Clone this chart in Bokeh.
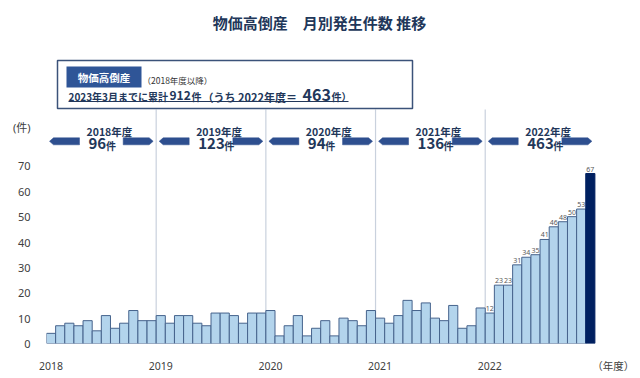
from bokeh.plotting import figure
from bokeh.models import Range1d, FixedTicker
from bokeh.core.properties import value
from bokeh.embed import file_html
from bokeh.resources import INLINE

# ---------------- data ----------------
FISCAL_YEARS = ["2018", "2019", "2020", "2021", "2022"]
FY_LABELS = ["2018年度", "2019年度", "2020年度", "2021年度", "2022年度"]
FY_TOTALS = [96, 123, 94, 136, 463]
counts_2018 = [4, 7, 8, 7, 9, 5, 11, 6, 8, 13, 9, 9]
counts_2019 = [11, 8, 11, 11, 8, 7, 12, 12, 11, 8, 12, 12]
counts_2020 = [13, 3, 7, 11, 3, 6, 9, 3, 10, 9, 7, 13]
counts_2021 = [10, 8, 11, 17, 13, 16, 10, 9, 15, 6, 7, 14]
counts_2022 = [12, 23, 23, 31, 34, 35, 41, 46, 48, 50, 53, 67]
TICK_LABELS = ["2018", "2019", "2020", "2021", "2022"]
X_UNIT_LABEL = "（年度）"
Y_UNIT_LABEL = "(件)"
Y_TICKS = [0, 10, 20, 30, 40, 50, 60, 70]
TITLE = "物価高倒産　月別発生件数 推移"
BOX_TAG = "物価高倒産"
BOX_NOTE = "（2018年度以降）"

monthly = counts_2018 + counts_2019 + counts_2020 + counts_2021 + counts_2022
n = len(monthly)
idx = list(range(n))

# ---------------- geometry ----------------
W, H = 640, 378
LEFT, RIGHT_PAD, BOTTOM = 46, 10, 35
BASE_PY = H - BOTTOM
PX_BAR = 9.14
PX_UNIT = 2.537
x0 = -0.5
x_end = x0 + (W - RIGHT_PAD - LEFT) / PX_BAR
y_end = BASE_PY / PX_UNIT


def X(px):
    return x0 + (px - LEFT) / PX_BAR


def Y(py):
    return (BASE_PY - py) / PX_UNIT


JP = value("Noto Sans CJK JP")
NAVY_TXT = "#22375a"
ARROW = "#2e4f8f"

p = figure(width=W, height=H, x_range=Range1d(x0, x_end), y_range=Range1d(0, y_end),
           output_backend="svg", toolbar_location=None, title=None,
           min_border_left=LEFT, min_border_right=RIGHT_PAD, min_border_top=0,
           min_border_bottom=BOTTOM)
p.outline_line_color = None
p.xgrid.visible = False
p.ygrid.visible = False
p.background_fill_color = "white"
p.border_fill_color = "white"

# axes
yt = p.yaxis[0]
unit_y_tick = 85
yt.ticker = FixedTicker(ticks=Y_TICKS + [unit_y_tick])
yt.major_label_overrides = {unit_y_tick: Y_UNIT_LABEL}
yt.axis_line_color = None
yt.major_tick_line_color = None
yt.minor_tick_line_color = None
yt.major_label_standoff = 10
yt.major_label_text_font = "'Noto Sans', 'Noto Sans CJK JP'"
yt.major_label_text_font_size = "11px"
yt.major_label_text_color = "#404040"

xa = p.xaxis[0]
year_ticks = [12 * k for k in range(len(TICK_LABELS))]
unit_tick = 61.5
xa.ticker = FixedTicker(ticks=year_ticks + [unit_tick])
ov = {t: lab for t, lab in zip(year_ticks, TICK_LABELS)}
ov[unit_tick] = X_UNIT_LABEL
xa.major_label_overrides = ov
xa.axis_line_color = None
xa.major_tick_line_color = None
xa.minor_tick_line_color = None
xa.major_label_standoff = 9
xa.major_label_text_font = "'Noto Sans', 'Noto Sans CJK JP'"
xa.major_label_text_font_size = "10.5px"
xa.major_label_text_color = "#404040"

# year separator lines
sep = [12 * k - 0.5 for k in range(1, len(FISCAL_YEARS))]
p.segment(x0=sep, y0=[0] * len(sep), x1=sep, y1=[Y(109)] * len(sep),
          line_color="#c9d1dd", line_width=1.2)

# bars
fills = ["#b3d4ec"] * (n - 1) + ["#002060"]
lines = ["#46638c"] * (n - 1) + ["#002060"]
p.vbar(x=idx, width=1, top=monthly, fill_color=fills, line_color=lines, line_width=1)

# data labels for the last fiscal year
lab_idx = idx[-len(counts_2022):]
p.text(x=lab_idx, y=counts_2022, text=[str(v) for v in counts_2022],
       text_align="center", text_baseline="bottom", y_offset=-2,
       text_font=value("Noto Sans"), text_font_size="7px", text_color="#595959")


def txt(px, py, t, size, align="left", bold=True, color=NAVY_TXT, font=JP):
    p.text(x=[X(px)], y=[Y(py)], text=[t], text_align=align, text_baseline="middle",
           text_font=font, text_font_style="bold" if bold else "normal",
           text_font_size=size, text_color=color)


# fiscal-year arrows and totals
span_px = 12 * PX_BAR
for k, (lab, tot) in enumerate(zip(FY_LABELS, FY_TOTALS)):
    sl = LEFT + k * span_px
    sr = sl + span_px
    top, mid, bot = 137.3, 140.8, 144.3
    lx = [X(sl + 3), X(sl + 7), X(sl + 33), X(sl + 33), X(sl + 7)]
    ly = [Y(mid), Y(top), Y(top), Y(bot), Y(bot)]
    rx = [X(sr - 33), X(sr - 7), X(sr - 3), X(sr - 7), X(sr - 33)]
    ry = [Y(top), Y(top), Y(mid), Y(bot), Y(bot)]
    p.patches(xs=[lx, rx], ys=[ly, ry], fill_color=ARROW, line_color=ARROW, line_width=0.5)
    txt(sl + 40, 130.5, lab, "10.5px")
    s = str(tot)
    txt(sl + 42, 143.3, s, "15px")
    txt(sl + 42 + len(s) * 8.5 + 0.5, 144.8, "件", "10px")

# title
txt(319, 22, TITLE, "15px", align="center")

# summary box
p.quad(left=[X(57)], right=[X(412)], bottom=[Y(108)], top=[Y(60)],
       fill_color="white", line_color="#3b5279", line_width=1.5)
p.quad(left=[X(66)], right=[X(141)], bottom=[Y(87)], top=[Y(66)],
       fill_color="#2f5597", line_color=None)
txt(103.5, 76.5, BOX_TAG, "10.5px", align="center", color="white")
txt(142, 79, BOX_NOTE, "8.5px", bold=False, color="#333333")

total_all = sum(FY_TOTALS)
pieces = [
    (68, 96.0, "2023年3月までに累計", "10px"),
    (169, 94.6, str(total_all), "12px"),
    (191, 96.0, "件", "10px"),
    (202, 96.0, "（うち 2022年度＝", "11px"),
    (302, 94.6, str(FY_TOTALS[-1]), "16px"),
    (331, 96.0, "件）", "10px"),
]
for px, py, t, fs in pieces:
    txt(px, py, t, fs)
p.segment(x0=[X(68)], y0=[Y(101)], x1=[X(348)], y1=[Y(101)], line_color=NAVY_TXT, line_width=1)

open("out.html", "w").write(file_html(p, INLINE))
